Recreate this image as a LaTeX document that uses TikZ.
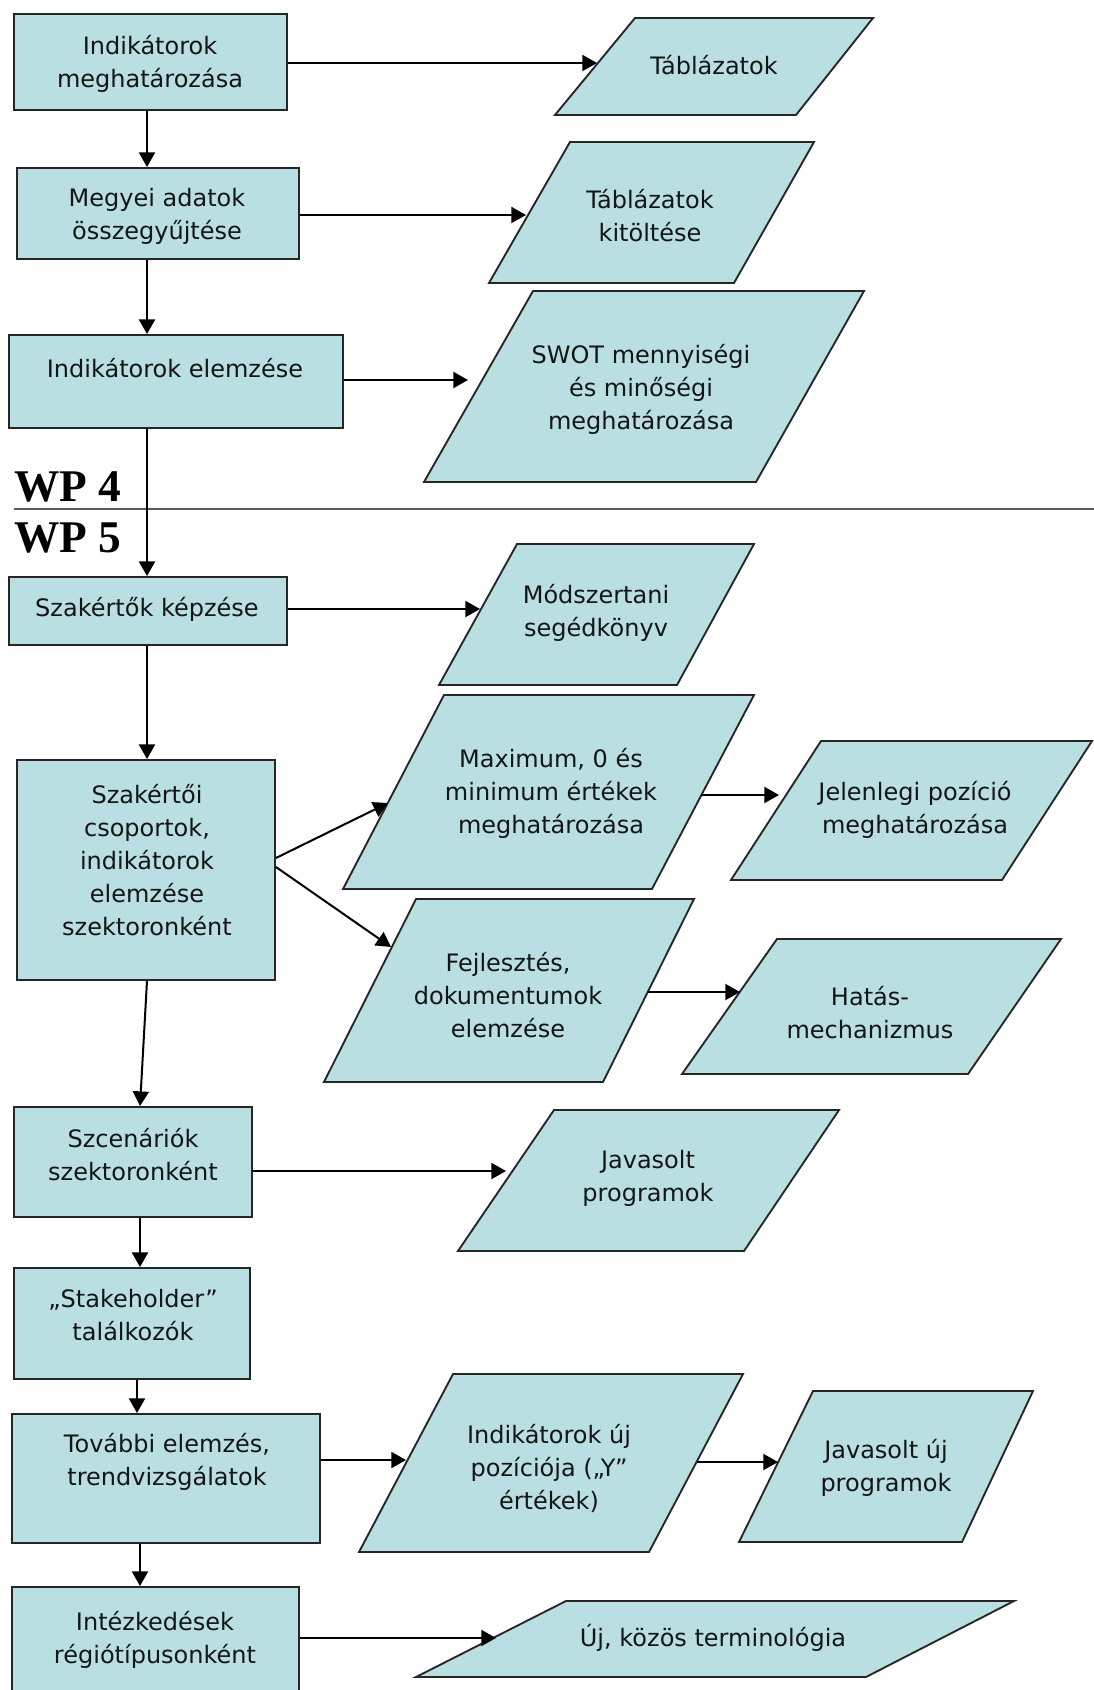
\documentclass[tikz,border=0pt]{standalone}
\usepackage{fontspec}
\setmainfont{DejaVu Sans}
\newfontfamily\wpfont{Liberation Serif}
\usetikzlibrary{arrows.meta,fit,calc}
\definecolor{boxfill}{HTML}{B9DFE3}
\definecolor{edgecol}{HTML}{262626}
\definecolor{txtcol}{HTML}{151515}
\begin{document}
\begin{tikzpicture}[x=0.75pt,y=-0.75pt,
  box/.style={draw=edgecol,line width=1.4pt,fill=boxfill,inner sep=0pt,rectangle},
  para/.style={draw=edgecol,line width=1.4pt,fill=boxfill,line join=miter},
  lbl/.style={align=center,inner sep=0pt,text=txtcol,font=\fontsize{18}{24.75}\selectfont},
  wp/.style={inner sep=0pt,anchor=base west,font=\wpfont\bfseries\fontsize{34}{40}\selectfont},
  arr/.style={draw=black,line width=1.5pt,-{Triangle[length=11pt,width=12pt]}},
  divider/.style={draw=black!65,line width=1.5pt}
]
\useasboundingbox (0,0) rectangle (1094,1690);
\clip (0,0) rectangle (1094,1690);
\fill[white] (0,0) rectangle (1094,1690);

% trunk reference coordinates
\coordinate (ta) at (147,0);
\coordinate (tb) at (140,0);
\coordinate (tc) at (137,0);

% ---------- process boxes ----------
\node[box,fit={(14,14) (287,110)}] (b1) {};
\node[box,fit={(17,168) (299,259)}] (b2) {};
\node[box,fit={(9,335) (343,428)}] (b3) {};
\node[box,fit={(9,577) (287,645)}] (b4) {};
\node[box,fit={(17,760) (275,980)}] (b5) {};
\node[box,fit={(14,1107) (252,1217)}] (b6) {};
\node[box,fit={(14,1268) (250,1379)}] (b7) {};
\node[box,fit={(12,1414) (320,1543)}] (b8) {};
\node[box,fit={(12,1587) (299,1712)}] (b9) {};

\node[lbl] (b1t) at (150,64) {Indikátorok\\meghatározása};
\node[lbl] (b2t) at (157,216) {Megyei adatok\\összegyűjtése};
\node[lbl] (b3t) at (175,368) {Indikátorok elemzése};
\node[lbl] (b4t) at (147,609) {Szakértők képzése};
\node[lbl] (b5t) at (147,860) {Szakértői\\csoportok,\\indikátorok\\elemzése\\szektoronként};
\node[lbl] (b6t) at (133,1155) {Szcenáriók\\szektoronként};
\node[lbl] (b7t) at (133,1315) {„Stakeholder”\\találkozók};
\node[lbl] (b8t) at (167,1462) {További elemzés,\\trendvizsgálatok};
\node[lbl] (b9t) at (155,1640) {Intézkedések\\régiótípusonként};

% ---------- parallelograms ----------
\draw[para] (635,18) -- (873,18) -- (796,115) -- (555,115) -- cycle;
\draw[para] (570,142) -- (814,142) -- (734,283) -- (489,283) -- cycle;
\draw[para] (533,291) -- (864,291) -- (756,482) -- (424,482) -- cycle;
\draw[para] (517,544) -- (754,544) -- (677,685) -- (439,685) -- cycle;
\draw[para] (444,695) -- (754,695) -- (652,889) -- (343,889) -- cycle;
\draw[para] (821,741) -- (1092,741) -- (1002,880) -- (731,880) -- cycle;
\draw[para] (416,899) -- (694,899) -- (603,1082) -- (324,1082) -- cycle;
\draw[para] (777,939) -- (1061,939) -- (968,1074) -- (682,1074) -- cycle;
\draw[para] (554,1110) -- (839,1110) -- (744,1251) -- (458,1251) -- cycle;
\draw[para] (453,1374) -- (743,1374) -- (649,1552) -- (359,1552) -- cycle;
\draw[para] (813,1391) -- (1033,1391) -- (962,1542) -- (739,1542) -- cycle;
\draw[para] (566,1601) -- (1014,1601) -- (866,1677) -- (416,1677) -- cycle;

\node[lbl] (p1) at (714,65) {Táblázatok};
\node[lbl] (p2) at (650,216) {Táblázatok\\kitöltése};
\node[lbl] (p3) at (641,389) {SWOT mennyiségi\\és minőségi\\meghatározása};
\node[lbl] (p4) at (596,613) {Módszertani\\segédkönyv};
\node[lbl] (p5) at (551,793) {Maximum, 0 és\\minimum értékek\\meghatározása};
\node[lbl] (p6) at (915,810) {Jelenlegi pozíció\\meghatározása};
\node[lbl] (p7) at (508,995) {Fejlesztés,\\dokumentumok\\elemzése};
\node[lbl] (p8) at (870,1013) {Hatás-\\mechanizmus};
\node[lbl] (p9) at (648,1178) {Javasolt\\programok};
\node[lbl] (p10) at (549,1468) {Indikátorok új\\pozíciója („Y”\\értékek)};
\node[lbl] (p11) at (886,1468) {Javasolt új\\programok};
\node[lbl] (p12) at (713,1638) {Új, közös terminológia};

% entry / exit points of the connectors
\coordinate (p1in) at (597,63);
\coordinate (p2in) at (526,215);
\coordinate (p3in) at (468,380);
\coordinate (p4in) at (480,609);
\coordinate (p5in) at (388,803);
\coordinate (p5out) at (701,795);
\coordinate (p6in) at (779,795);
\coordinate (p7in) at (391,947);
\coordinate (p7out) at (648,992);
\coordinate (p8in) at (740,992);
\coordinate (p9in) at (506,1171);
\coordinate (p10in) at (406,1460);
\coordinate (p10out) at (697,1462);
\coordinate (p11in) at (778,1462);
\coordinate (p12in) at (496,1638);

% ---------- WP labels and divider ----------
\node[wp] (wp4) at (14,501) {WP 4};
\node[wp] (wp5) at (14,552) {WP 5};
\coordinate (dl) at (14,509);
\coordinate (dr) at (1094,509);
\draw[divider] (dl) -- (dr);

% ---------- vertical flow ----------
\draw[arr] (b1.south -| ta) -- (b2.north -| ta);
\draw[arr] (b2.south -| ta) -- (b3.north -| ta);
\draw[arr] (b3.south -| ta) -- (b4.north -| ta);
\draw[arr] (b4.south -| ta) -- (b5.north -| ta);
\draw[arr] (b5.south -| ta) -- (b6.north -| tb);
\draw[arr] (b6.south -| tb) -- (b7.north -| tb);
\draw[arr] (b7.south -| tc) -- (b8.north -| tc);
\draw[arr] (b8.south -| tb) -- (b9.north -| tb);

% ---------- horizontal outputs ----------
\draw[arr] (b1.east |- p1in) -- (p1in);
\draw[arr] (b2.east |- p2in) -- (p2in);
\draw[arr] (b3.east |- p3in) -- (p3in);
\draw[arr] (b4.east |- p4in) -- (p4in);
\draw[arr] ($(b5.east)+(0,-12)$) -- (p5in);
\draw[arr] ($(b5.east)+(0,-3)$) -- (p7in);
\draw[arr] (p5out) -- (p6in);
\draw[arr] (p7out) -- (p8in);
\draw[arr] (b6.east |- p9in) -- (p9in);
\draw[arr] (b8.east |- p10in) -- (p10in);
\draw[arr] (p10out) -- (p11in);
\draw[arr] (b9.east |- p12in) -- (p12in);
\end{tikzpicture}
\end{document}
